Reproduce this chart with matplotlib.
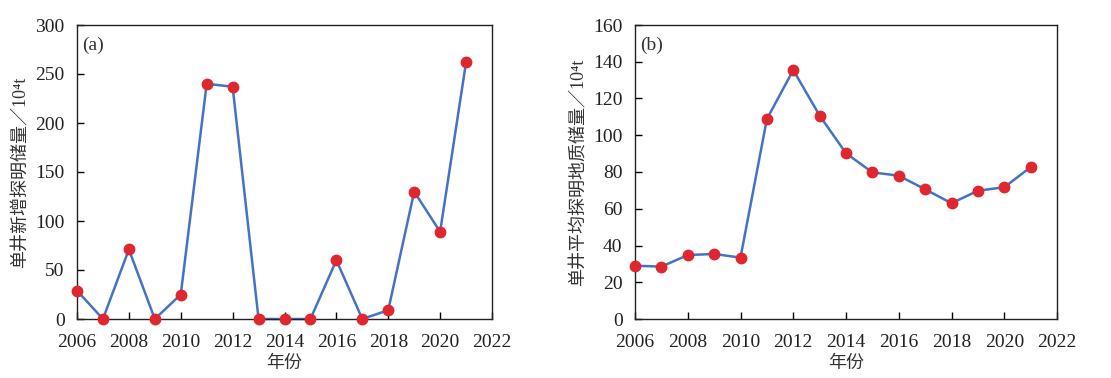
import matplotlib.pyplot as plt

# years and values
years = [2006, 2007, 2008, 2009, 2010, 2011, 2012, 2013,
         2014, 2015, 2016, 2017, 2018, 2019, 2020, 2021]
newReserve = [29, 0, 71, 0, 25, 240, 237, 0, 0, 0, 60, 0, 9, 130, 89, 262]
avgReserve = [29, 28.5, 34.8, 35.4, 33.4, 108.8, 135.5, 110.7,
              90.2, 79.8, 78, 70.6, 63, 69.8, 71.7, 82.6]

xTicks = list(range(2006, 2023, 2))
yLabelA = "单井新增探明储量／10⁴t"
yLabelB = "单井平均探明地质储量／10⁴t"
xLabel = "年份"

serif = ['Liberation Serif', 'Noto Sans CJK SC', 'DejaVu Sans']
cjk = ['Noto Sans CJK SC', 'Liberation Serif', 'DejaVu Sans']

lineColor = '#4472C4'
dotColor = '#E0262E'

fig = plt.figure(figsize=(11.11, 3.78), dpi=100)
axA = fig.add_axes([77 / 1111, 1 - 319 / 378, 415 / 1111, 294 / 378])
axB = fig.add_axes([635 / 1111, 1 - 319 / 378, 422 / 1111, 294 / 378])


def drawPanel(ax, values, ymax, ystep, ylabel, tag):
    ax.plot(years, values, color=lineColor, linewidth=1.8, zorder=2,
            clip_on=False)
    ax.plot(years, values, 'o', color=dotColor, markersize=7.5, zorder=3,
            clip_on=False)
    ax.set_xlim(2006, 2022)
    ax.set_ylim(0, ymax)
    ax.set_xticks(xTicks)
    ax.set_yticks(range(0, ymax + 1, ystep))
    ax.tick_params(direction='in', length=5, width=1, top=False, right=False,
                   labelsize=14)
    ax.tick_params(axis='x', pad=11)
    ax.tick_params(axis='y', pad=9)
    for lab in ax.get_xticklabels() + ax.get_yticklabels():
        lab.set_family(serif)
        lab.set_color('#222222')
    for sp in ax.spines.values():
        sp.set_linewidth(1.0)
        sp.set_color('#222222')
    ax.set_ylabel(ylabel, family=serif, fontsize=13, color='#333333',
                  labelpad=4)
    ax.set_xlabel(xLabel, family=cjk, fontsize=13, color='#333333',
                  labelpad=2)
    ax.text(0.012, 0.93, tag, transform=ax.transAxes, family=serif,
            fontsize=14, color='#333333', va='center', ha='left')


drawPanel(axA, newReserve, 300, 50, yLabelA, '(a)')
drawPanel(axB, avgReserve, 160, 20, yLabelB, '(b)')

fig.savefig('out.png', dpi=100)
